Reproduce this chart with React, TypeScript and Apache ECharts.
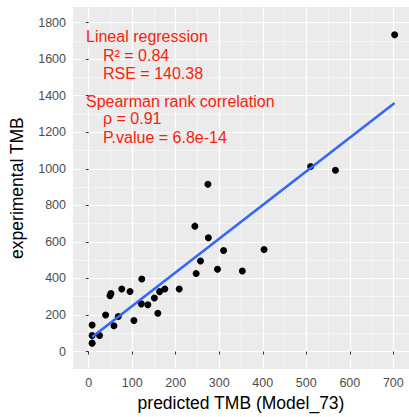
import React, { useEffect, useRef } from "react";
import * as echarts from "echarts";

// Data
const predicted = [703, 510, 567, 274, 244, 275, 310, 403, 257, 296, 353, 247, 122, 8, 8, 8, 25, 39, 49, 51, 58, 68, 76, 95, 104, 121, 136, 151, 159, 163, 175, 208];
const experimental = [1733, 1012, 992, 915, 686, 623, 553, 558, 495, 450, 441, 427, 397, 145, 88, 46, 88, 200, 305, 318, 141, 192, 342, 329, 170, 261, 256, 293, 210, 328, 342, 342];
const fitX = [8, 703];
const fitY = [80, 1360];

const xMajor = [0, 100, 200, 300, 400, 500, 600, 700];
const xMinor = [50, 150, 250, 350, 450, 550, 650];
const yMajor = [0, 200, 400, 600, 800, 1000, 1200, 1400, 1600, 1800];
const yMinor = [100, 300, 500, 700, 900, 1100, 1300, 1500, 1700];
const xRange = [-36, 736];
const yRange = [-96, 1885];

const xTitle = "predicted TMB (Model_73)";
const yTitle = "experimental TMB";

const FONT = '"Liberation Sans", Arial, Helvetica, sans-serif';
const RED = "#F8220E";

export default function App() {
  const ref = useRef<HTMLDivElement>(null);

  useEffect(() => {
    if (!ref.current) return;
    const chart = echarts.init(ref.current, null, { renderer: "svg" });

    const points = predicted.map((x, i) => [x, experimental[i]]);
    const fit = fitX.map((x, i) => [x, fitY[i]]);

    const ann = (text: string, x: number, y: number, size = 16) => ({
      type: "text",
      x,
      y,
      z: 100,
      silent: true,
      style: {
        text,
        fill: RED,
        fontSize: size,
        fontFamily: FONT,
        verticalAlign: "middle",
        align: "left",
      },
    });

    const plain = (v: number) => String(v);

    const option: any = {
      animation: false,
      backgroundColor: "#ffffff",
      grid: {
        left: 70,
        top: 7,
        right: 0,
        bottom: 44,
        show: true,
        backgroundColor: "#EBEBEB",
        borderWidth: 0,
      },
      xAxis: [
        {
          type: "value",
          min: xRange[0],
          max: xRange[1],
          axisLine: { show: false },
          axisTick: {
            show: true,
            length: 3,
            customValues: xMajor,
            lineStyle: { color: "#333333", width: 1 },
          },
          axisLabel: {
            customValues: xMajor,
            formatter: plain,
            color: "#4D4D4D",
            fontSize: 12.5,
            fontFamily: FONT,
            margin: 7,
          },
          splitLine: { show: true, lineStyle: { color: "#ffffff", width: 1.2 } },
          name: xTitle,
          nameLocation: "middle",
          nameGap: 22,
          nameTextStyle: { color: "#000000", fontSize: 17.5, fontFamily: FONT },
        },
        {
          type: "value",
          min: xRange[0],
          max: xRange[1],
          axisLine: { show: false },
          axisTick: { show: false, customValues: xMinor },
          axisLabel: { show: false, customValues: xMinor },
          splitLine: { show: true, lineStyle: { color: "#ffffff", width: 0.5 } },
        },
      ],
      yAxis: [
        {
          type: "value",
          min: yRange[0],
          max: yRange[1],
          axisLine: { show: false },
          axisTick: {
            show: true,
            length: 3,
            customValues: yMajor,
            lineStyle: { color: "#333333", width: 1 },
          },
          axisLabel: {
            customValues: yMajor,
            formatter: plain,
            color: "#4D4D4D",
            fontSize: 12.5,
            fontFamily: FONT,
            margin: 7,
          },
          splitLine: { show: true, lineStyle: { color: "#ffffff", width: 1.2 } },
          name: yTitle,
          nameLocation: "middle",
          nameGap: 47,
          nameRotate: 90,
          nameTextStyle: { color: "#000000", fontSize: 17.5, fontFamily: FONT },
        },
        {
          type: "value",
          min: yRange[0],
          max: yRange[1],
          axisLine: { show: false },
          axisTick: { show: false, customValues: yMinor },
          axisLabel: { show: false, customValues: yMinor },
          splitLine: { show: true, lineStyle: { color: "#ffffff", width: 0.5 } },
        },
      ],
      series: [
        {
          type: "scatter",
          xAxisIndex: 0,
          yAxisIndex: 0,
          data: points,
          symbol: "circle",
          symbolSize: 7,
          itemStyle: { color: "#000000", opacity: 1 },
          z: 3,
          silent: true,
        },
        {
          type: "line",
          xAxisIndex: 0,
          yAxisIndex: 0,
          data: fit,
          showSymbol: false,
          symbol: "none",
          lineStyle: { color: "#3366FF", width: 2.6 },
          z: 4,
          silent: true,
        },
      ],
      graphic: [
        ann("Lineal regression", 86, 36),
        ann("R\u00B2 = 0.84", 103, 55),
        ann("RSE = 140.38", 103, 73),
        ann("Spearman rank correlation", 86, 101),
        ann("\u03C1 = 0.91", 103, 118.5),
        ann("P.value = 6.8e-14", 103, 137),
      ],
    };

    chart.setOption(option);
    return () => chart.dispose();
  }, []);

  return (
    <div
      ref={ref}
      style={{ position: "absolute", left: 0, top: 0, width: 409, height: 417 }}
    />
  );
}
